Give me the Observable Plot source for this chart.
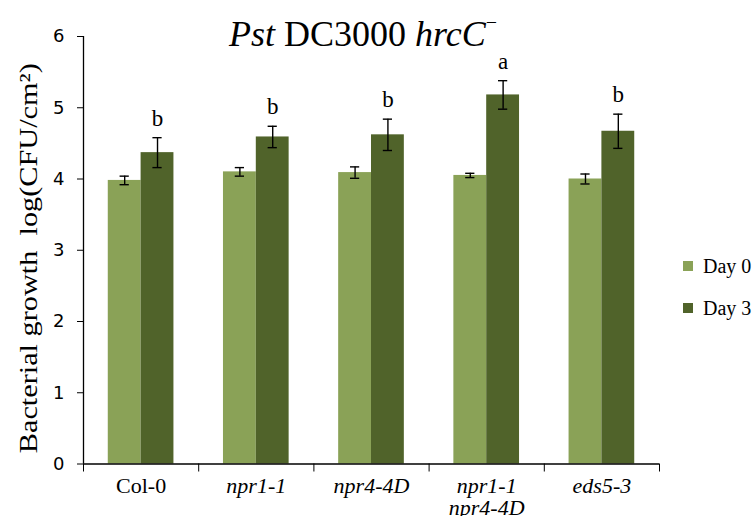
<!DOCTYPE html>
<html>
<head>
<meta charset="utf-8">
<script src="https://cdn.jsdelivr.net/npm/d3@7"></script>
<script src="https://cdn.jsdelivr.net/npm/@observablehq/plot@0.6"></script>
<style>
  body { margin: 0; background: #fff; }
  #wrap { position: relative; width: 754px; height: 516px; overflow: hidden; background: #fff; }
  .leg { position: absolute; left: 683px; font-family: 'Liberation Serif', 'Times New Roman', serif; font-size: 20px; line-height: 20px; color: #000; white-space: nowrap; }
  .leg span.sw { display: inline-block; width: 10px; height: 10px; margin-right: 10px; vertical-align: 2px; }
</style>
</head>
<body>
<div id="wrap">
  <div id="chart"></div>
  <div class="leg" style="top:256px"><span class="sw" style="background:#8aa257"></span>Day 0</div>
  <div class="leg" style="top:298px"><span class="sw" style="background:#50632a"></span>Day 3</div>
</div>
<script>
const categories = ["Col-0", "npr1-1", "npr4-4D", "npr1-1\nnpr4-4D", "eds5-3"];
const series = ["Day 0", "Day 3"];
const day0 = [3.98, 4.10, 4.09, 4.05, 4.00];
const day0Err = [0.06, 0.06, 0.08, 0.03, 0.07];
const day3 = [4.37, 4.59, 4.62, 5.18, 4.67];
const day3Err = [0.21, 0.15, 0.22, 0.20, 0.24];
const letters = ["b", "b", "b", "a", "b"];
const yTicks = [0, 1, 2, 3, 4, 5, 6];
const colors = ["#8aa257", "#50632a"];
const yLabel = "Bacterial growth\u00a0\u00a0log(CFU/cm\u00b2)";

const serif = "'Liberation Serif', 'Times New Roman', serif";
const barW = 0.285;
const rows = [];
categories.forEach((c, i) => {
  rows.push({i, s: 0, cat: c, v: day0[i], e: day0Err[i]});
  rows.push({i, s: 1, cat: c, v: day3[i], e: day3Err[i], letter: letters[i]});
});
const x1 = d => d.i + 0.5 + (d.s === 0 ? -barW : 0);
const x2 = d => d.i + 0.5 + (d.s === 0 ? 0 : barW);
const xc = d => (x1(d) + x2(d)) / 2;
const cap = 0.04;
const catRows = categories.map((c, i) => ({c, i}));

const chart = Plot.plot({
  width: 754,
  height: 516,
  marginLeft: 83,
  marginRight: 95,
  marginTop: 36,
  marginBottom: 52.5,
  x: {domain: [0, categories.length], axis: null},
  y: {domain: [0, 6], axis: null},
  style: {background: "#fff", overflow: "visible"},
  marks: [
    Plot.rectY(rows, {x1, x2, y: "v", fill: d => colors[d.s]}),
    Plot.ruleX(rows, {x: xc, y1: d => d.v - d.e, y2: d => d.v + d.e, stroke: "#000", strokeWidth: 1.4}),
    Plot.ruleY(rows, {y: d => d.v + d.e, x1: d => xc(d) - cap, x2: d => xc(d) + cap, stroke: "#000", strokeWidth: 1.4}),
    Plot.ruleY(rows, {y: d => d.v - d.e, x1: d => xc(d) - cap, x2: d => xc(d) + cap, stroke: "#000", strokeWidth: 1.4}),
    Plot.ruleX([0], {stroke: "#000", strokeWidth: 1.3}),
    Plot.ruleY([0], {stroke: "#000", strokeWidth: 1.3}),
    Plot.axisY({ticks: yTicks, tickSize: 6, tickPadding: 13, tickFormat: d3.format("d"), fontSize: 18, fontFamily: "DejaVu Sans", label: null, stroke: "#000"}),
    Plot.axisX({ticks: d3.range(categories.length + 1), tickSize: 8, tickFormat: () => "", label: null, stroke: "#000"}),
    Plot.text(catRows.filter(d => d.i === 0), {x: d => d.i + 0.5, y: 0, text: "c", dy: 13, lineAnchor: "top", fontSize: 22, fontFamily: serif, fill: "#000"}),
    Plot.text(catRows.filter(d => d.i > 0), {x: d => d.i + 0.5, y: 0, text: "c", dy: 13, lineAnchor: "top", lineHeight: 1.0, fontSize: 22, fontStyle: "italic", fontFamily: serif, fill: "#000"}),
    Plot.text(rows.filter(d => d.s === 1), {x: xc, y: d => d.v + d.e, text: "letter", dy: -12, lineAnchor: "bottom", fontSize: 23, fontFamily: serif, fill: "#000"}),
    Plot.text([yLabel], {frameAnchor: "left", textAnchor: "middle", rotate: -90, dx: -55, dy: 8, fontSize: 25, fontFamily: serif, fill: "#000"})
  ]
});
document.getElementById("chart").appendChild(chart);

// stretch y label along its baseline to match the reference's proportions
const svg = d3.select(chart);
svg.selectAll("text").filter(function() { return this.textContent === yLabel; })
  .attr("textLength", 390).attr("lengthAdjust", "spacingAndGlyphs");

// title
const t = svg.append("text")
  .attr("x", 363).attr("y", 46)
  .attr("text-anchor", "middle")
  .attr("font-family", serif)
  .attr("font-size", 36)
  .attr("fill", "#000");
t.append("tspan").attr("font-style", "italic").text("Pst");
t.append("tspan").text(" DC3000 ");
t.append("tspan").attr("font-style", "italic").text("hrcC");
t.append("tspan").attr("font-size", 20).attr("dy", -17).text("\u2212");
</script>
</body>
</html>
